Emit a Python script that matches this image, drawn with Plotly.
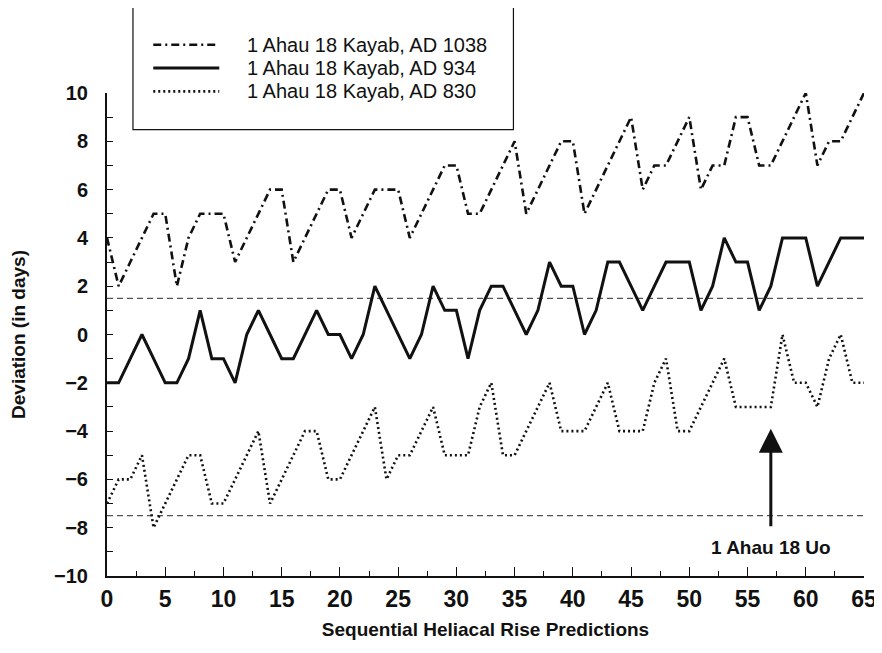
import plotly.graph_objects as go

predictions = list(range(0, 66))

ad1038 = [4, 2, 3, 4, 5, 5, 2, 4, 5, 5, 5, 3, 4, 5, 6, 6, 3, 4, 5, 6,
          6, 4, 5, 6, 6, 6, 4, 5, 6, 7, 7, 5, 5, 6, 7, 8, 5, 6, 7, 8,
          8, 5, 6, 7, 8, 9, 6, 7, 7, 8, 9, 6, 7, 7, 9, 9, 7, 7, 8, 9,
          10, 7, 8, 8, 9, 10]

ad934 = [-2, -2, -1, 0, -1, -2, -2, -1, 1, -1, -1, -2, 0, 1, 0, -1, -1, 0, 1, 0,
         0, -1, 0, 2, 1, 0, -1, 0, 2, 1, 1, -1, 1, 2, 2, 1, 0, 1, 3, 2,
         2, 0, 1, 3, 3, 2, 1, 2, 3, 3, 3, 1, 2, 4, 3, 3, 1, 2, 4, 4,
         4, 2, 3, 4, 4, 4]

ad830 = [-7, -6, -6, -5, -8, -7, -6, -5, -5, -7, -7, -6, -5, -4, -7, -6, -5, -4, -4, -6,
         -6, -5, -4, -3, -6, -5, -5, -4, -3, -5, -5, -5, -3, -2, -5, -5, -4, -3, -2, -4,
         -4, -4, -3, -2, -4, -4, -4, -2, -1, -4, -4, -3, -2, -1, -3, -3, -3, -3, 0, -2,
         -2, -3, -1, 0, -2, -2]

series_names = ["1 Ahau 18 Kayab, AD 1038", "1 Ahau 18 Kayab, AD 934", "1 Ahau 18 Kayab, AD 830"]
ref_levels = [1.5, -7.5]
arrow_x = 57
arrow_tip, arrow_tail = -3.9, -8.0
arrow_label = "1 Ahau 18 Uo"
x_title = "Sequential Heliacal Rise Predictions"
y_title = "Deviation (in days)"

FONT = "Liberation Sans, Arial, Helvetica, sans-serif"
INK = "#111111"

series = [ad1038, ad934, ad830]
styles = [dict(color=INK, width=2.6, dash="8px,4px,2px,4px"),
          dict(color=INK, width=3),
          dict(color=INK, width=2.6, dash="2px,3px")]

fig = go.Figure()
for name, vals, st in zip(series_names, series, styles):
    fig.add_trace(go.Scatter(x=predictions, y=vals, mode="lines", name=name,
                             line=st, showlegend=False))

for lvl in ref_levels:
    fig.add_shape(type="line", xref="x", yref="y", x0=predictions[0], x1=predictions[-1],
                  y0=lvl, y1=lvl, line=dict(color="#555555", width=1.3, dash="6px,4px"),
                  layer="below")

# legend box drawn by hand (paper coordinates)
fig.add_shape(type="rect", xref="paper", yref="paper", x0=0.0343, x1=0.5369,
              y0=0.924, y1=1.1806, line=dict(color=INK, width=1.2), fillcolor="white",
              layer="above")
row_y = [1.0999, 1.0517, 1.0033]
for name, st, yy in zip(series_names, styles, row_y):
    fig.add_shape(type="line", xref="paper", yref="paper", x0=0.0611, x1=0.1483,
                  y0=yy, y1=yy, line=st, layer="above")
    fig.add_annotation(x=0.1824, y=yy, xref="paper", yref="paper", text=name,
                       showarrow=False, xanchor="left", yanchor="middle",
                       font=dict(family=FONT, size=20, color=INK))

fig.add_annotation(x=arrow_x, y=arrow_tip, ax=arrow_x, ay=arrow_tail, xref="x", yref="y",
                   axref="x", ayref="y", text="", showarrow=True, arrowhead=2,
                   arrowsize=1.6, arrowwidth=3, arrowcolor=INK)
fig.add_annotation(x=arrow_x, y=-8.8, xref="x", yref="y", text=arrow_label, showarrow=False,
                   font=dict(family=FONT, size=19, color=INK, weight="bold"))

fig.update_layout(
    width=874, height=645,
    margin=dict(l=99, r=18, t=85, b=77),
    paper_bgcolor="white", plot_bgcolor="white",
    font=dict(family=FONT, color=INK),
    showlegend=False,
    xaxis=dict(range=[0, 65], tickmode="array", tickvals=list(range(0, 66, 5)),
               ticks="inside", ticklen=9, tickwidth=1.2, tickcolor=INK,
               minor=dict(tickvals=[v + 2.5 for v in range(0, 65, 5)], ticks="inside",
                          ticklen=5, tickcolor=INK, showgrid=False),
               showline=True, linecolor=INK, linewidth=2, showgrid=False, zeroline=False,
               automargin=False, ticklabelstandoff=1,
               tickfont=dict(family=FONT, size=23, color=INK, weight="bold"),
               title=dict(text=x_title, standoff=12,
                          font=dict(family=FONT, size=19, color=INK, weight="bold"))),
    yaxis=dict(range=[-10, 10], tickmode="array", tickvals=list(range(-10, 11, 2)),
               ticks="inside", ticklen=6, tickwidth=1.2, tickcolor=INK,
               minor=dict(tickvals=list(range(-9, 10, 2)), ticks="inside", ticklen=6,
                          tickcolor=INK, showgrid=False),
               showline=True, linecolor=INK, linewidth=2, showgrid=False, zeroline=False,
               automargin=False, ticklabelstandoff=13,
               tickfont=dict(family=FONT, size=20, color=INK, weight="bold"),
               title=dict(text=y_title, standoff=27,
                          font=dict(family=FONT, size=19, color=INK, weight="bold"))),
)

fig.write_html("out.html")
